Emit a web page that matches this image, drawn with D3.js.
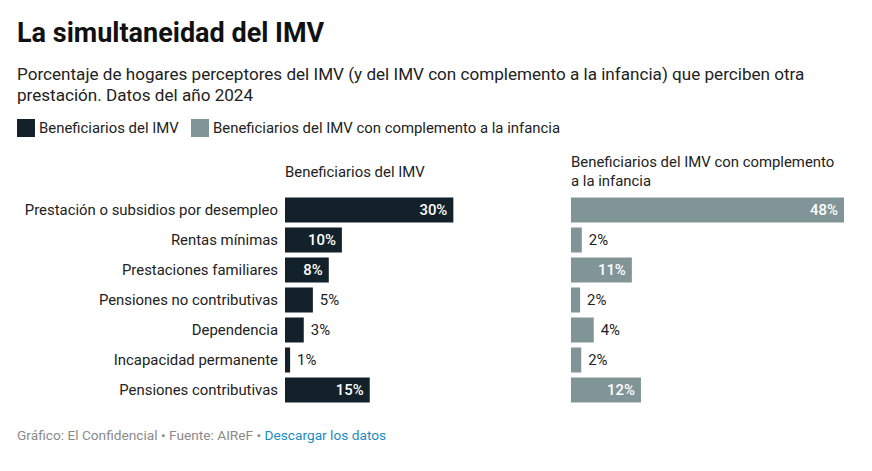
<!DOCTYPE html>
<html>
<head>
<meta charset="utf-8">
<script src="https://cdn.jsdelivr.net/npm/d3@7"></script>
<style>
  body { margin: 0; background: #fff; font-family: Roboto, sans-serif; }
  svg text { font-family: Roboto, sans-serif; }
</style>
</head>
<body>
<div id="chart"></div>
<script>
// chart data
const categories = [
  "Prestación o subsidios por desempleo",
  "Rentas mínimas",
  "Prestaciones familiares",
  "Pensiones no contributivas",
  "Dependencia",
  "Incapacidad permanente",
  "Pensiones contributivas"
];
const imv = [29.6, 10, 7.7, 4.9, 3.3, 0.9, 14.9];
const imvInfancia = [48, 1.9, 10.7, 1.6, 4.0, 1.8, 12.3];
const seriesNames = ["Beneficiarios del IMV", "Beneficiarios del IMV con complemento a la infancia"];

const width = 872, height = 471;
const dark = "#13212a", grey = "#819598";

const svg = d3.select("#chart").append("svg")
    .attr("width", width)
    .attr("height", height);

// title + subtitle
svg.append("text")
    .attr("x", 17).attr("y", 42)
    .style("font-size", "27px").style("font-weight", "700").style("fill", "#111")
    .text("La simultaneidad del IMV");

const sub = svg.append("text")
    .attr("x", 17).attr("y", 80)
    .style("font-size", "17.1px").style("fill", "#222");
sub.append("tspan").attr("x", 17).attr("dy", 0)
    .text("Porcentaje de hogares perceptores del IMV (y del IMV con complemento a la infancia) que perciben otra");
sub.append("tspan").attr("x", 17).attr("dy", 21)
    .text("prestación. Datos del año 2024");

// legend
const legendX = [17, 191];
seriesNames.forEach((name, i) => {
    svg.append("rect")
        .attr("x", legendX[i]).attr("y", 119)
        .attr("width", 18).attr("height", 18)
        .attr("fill", i === 0 ? dark : grey);
    svg.append("text")
        .attr("x", legendX[i] + 22).attr("y", 133)
        .style("font-size", "14.9px").style("fill", "#222")
        .text(name);
});

// shared scales
const x = d3.scaleLinear().domain([0, 48]).range([0, 273]);
const y = d3.scaleBand()
    .domain(categories)
    .range([195, 405])
    .paddingInner(1 / 6)
    .paddingOuter(1 / 12);

// category labels
svg.append("g")
    .selectAll("text")
    .data(categories)
    .join("text")
    .attr("x", 278)
    .attr("y", d => y(d) + y.bandwidth() / 2)
    .attr("dy", "0.35em")
    .attr("text-anchor", "end")
    .style("font-size", "14.9px").style("fill", "#222")
    .text(d => d);

function panel(x0, values, color, header) {
    const g = svg.append("g").attr("transform", `translate(${x0},0)`);

    const h = g.append("text")
        .attr("x", 0)
        .attr("y", header.length > 1 ? 167 : 177)
        .style("font-size", "14.9px").style("fill", "#222");
    header.forEach((line, i) => {
        h.append("tspan").attr("x", 0).attr("dy", i === 0 ? 0 : 19).text(line);
    });

    const rows = categories.map((c, i) => ({ name: c, value: values[i] }));

    g.selectAll("rect")
        .data(rows)
        .join("rect")
        .attr("x", 0)
        .attr("y", d => y(d.name))
        .attr("width", d => x(d.value))
        .attr("height", y.bandwidth())
        .attr("fill", color);

    g.selectAll("text.val")
        .data(rows)
        .join("text")
        .attr("class", "val")
        .each(function(d) {
            const inside = x(d.value) > 40;
            d3.select(this)
                .attr("x", inside ? x(d.value) - 6 : x(d.value) + 7)
                .attr("text-anchor", inside ? "end" : "start")
                .style("fill", inside ? "#fff" : "#222")
                .style("font-weight", inside ? "500" : "400");
        })
        .attr("y", d => y(d.name) + y.bandwidth() / 2)
        .attr("dy", "0.35em")
        .style("font-size", "14.9px")
        .text(d => Math.round(d.value) + "%");
}

panel(285, imv, dark, ["Beneficiarios del IMV"]);
panel(571, imvInfancia, grey, ["Beneficiarios del IMV con complemento", "a la infancia"]);

// footer
const foot = svg.append("text")
    .attr("x", 17).attr("y", 440)
    .style("font-size", "13.7px").style("fill", "#8a8a8a");
foot.append("tspan").text("Gráfico: El Confidencial • Fuente: AIReF • ");
foot.append("tspan").style("fill", "#1b8bc5").text("Descargar los datos");
</script>
</body>
</html>
